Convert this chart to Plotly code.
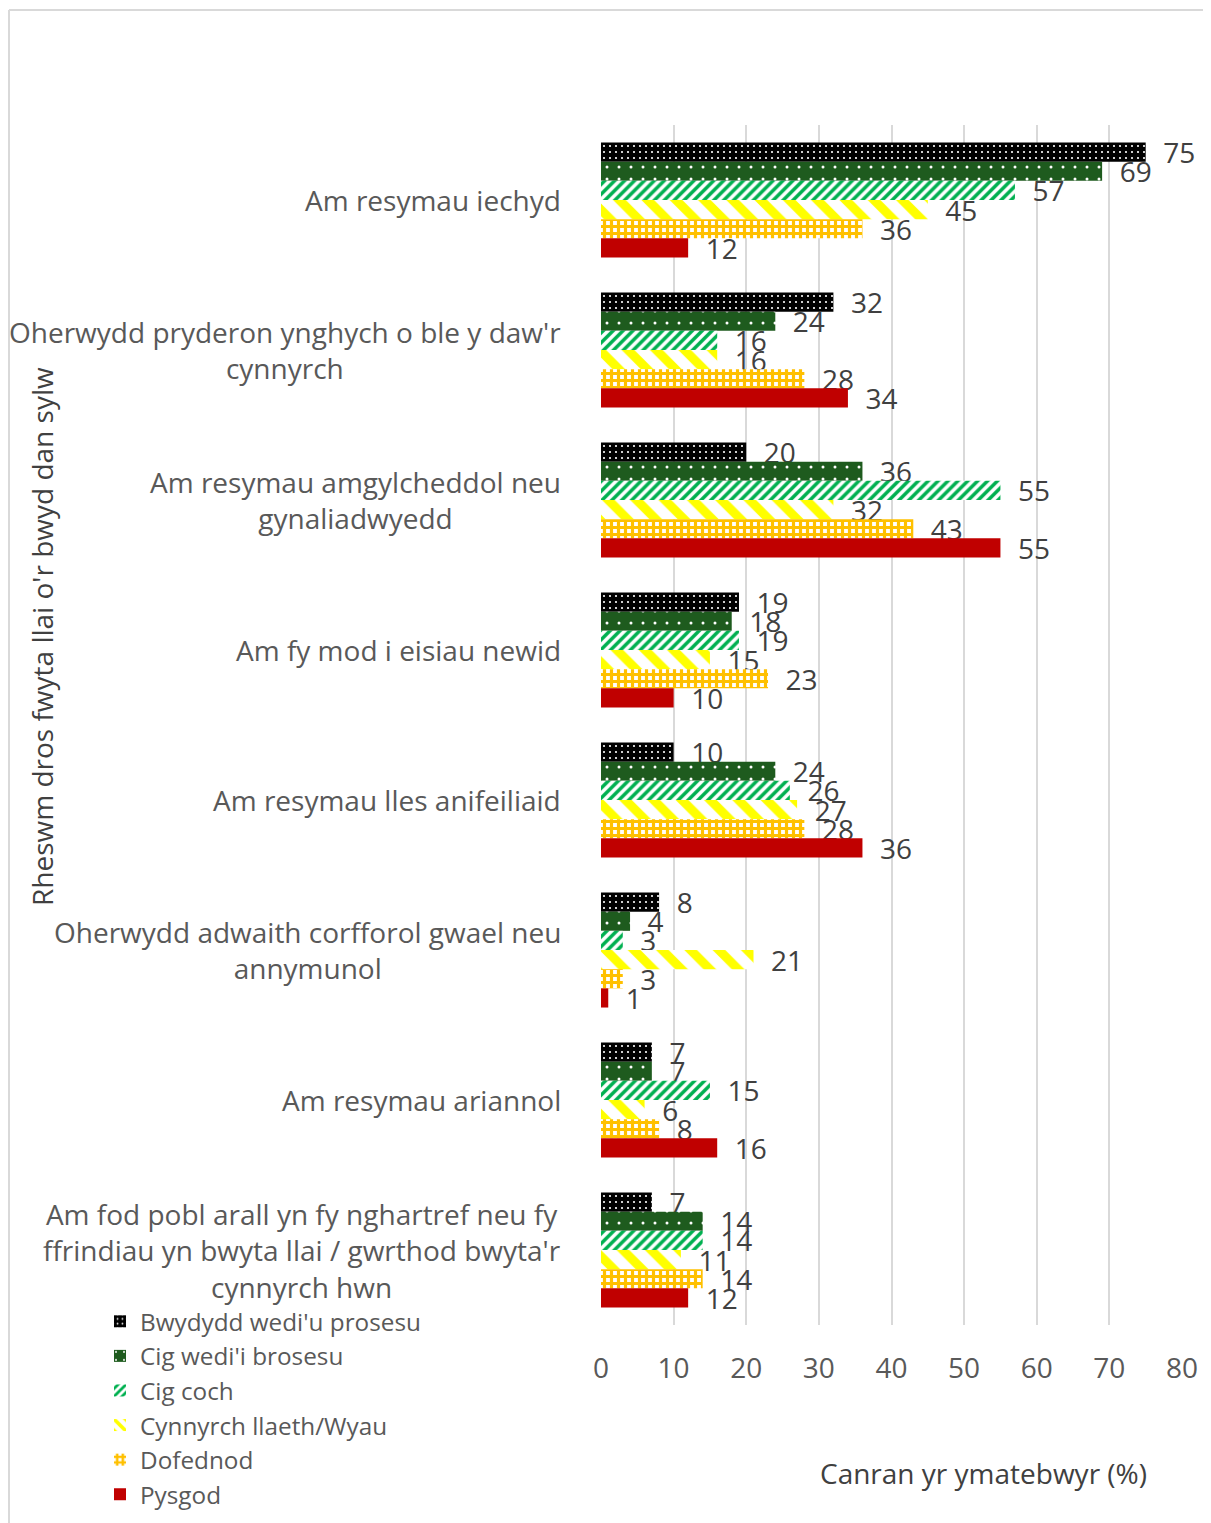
import plotly.graph_objects as go

categories = [
    "Am resymau iechyd",
    "Oherwydd pryderon ynghych o ble y daw'r<br>cynnyrch",
    "Am resymau amgylcheddol neu<br>gynaliadwyedd",
    "Am fy mod i eisiau newid",
    "Am resymau lles anifeiliaid",
    "Oherwydd adwaith corfforol gwael neu<br>annymunol",
    "Am resymau ariannol",
    "Am fod pobl arall yn fy nghartref neu fy<br>ffrindiau yn bwyta llai / gwrthod bwyta'r<br>cynnyrch hwn",
]

series_names = [
    "Bwydydd wedi'u prosesu",
    "Cig wedi'i brosesu",
    "Cig coch",
    "Cynnyrch llaeth/Wyau",
    "Dofednod",
    "Pysgod",
]

bwydydd = [75, 32, 20, 19, 10, 8, 7, 7]
cig_prosesu = [69, 24, 36, 18, 24, 4, 7, 14]
cig_coch = [57, 16, 55, 19, 26, 3, 15, 14]
llaeth = [45, 16, 32, 15, 27, 21, 6, 11]
dofednod = [36, 28, 43, 23, 28, 3, 8, 14]
pysgod = [12, 34, 55, 10, 36, 1, 16, 12]

values = [bwydydd, cig_prosesu, cig_coch, llaeth, dofednod, pysgod]

x_ticks = [0, 10, 20, 30, 40, 50, 60, 70, 80]

styles = [
    dict(color="#000000", pattern=dict(shape=".", bgcolor="#000000", fgcolor="#FFFFFF", size=6, solidity=0.1, fillmode="replace")),
    dict(color="#1E5B1E", pattern=dict(shape=".", bgcolor="#1E5B1E", fgcolor="#FFFFFF", size=12, solidity=0.05, fillmode="replace")),
    dict(color="#00B050", pattern=dict(shape="/", bgcolor="#FFFFFF", fgcolor="#00B050", size=7, solidity=0.5, fillmode="replace")),
    dict(color="#FFFF00", pattern=dict(shape="\\", bgcolor="#FFFFFF", fgcolor="#FFFF00", size=20, solidity=0.45, fillmode="replace")),
    dict(color="#FFC000", pattern=dict(shape="+", bgcolor="#FFFFFF", fgcolor="#FFC000", size=7, solidity=0.7, fillmode="replace")),
    dict(color="#C00000"),
]

FONT = "Open Sans"
FS = 28

# page offset of the figure (body margin)
OFF = 8
PL, PR, PT, PB = 601, 1182, 125, 1325  # plot area in page pixels
W, H = 1211 - OFF, 1523 - OFF
MB = 0
PAPER_B = OFF + H - MB  # page y of paper bottom


def px(xp):
    return (xp - PL) / (PR - PL)


def py(yp):
    return (PAPER_B - yp) / (PAPER_B - PT)


fig = go.Figure()
for name, vals, st in zip(series_names, values, styles):
    fig.add_trace(go.Bar(
        y=categories, x=vals, name=name, orientation="h",
        marker=dict(line=dict(width=0), **st),
        text=vals, texttemplate="\u00a0\u00a0%{x}", textposition="outside",
        textfont=dict(size=FS, color="#404040", family=FONT),
        constraintext="none", cliponaxis=False,
    ))

for c in categories:
    fig.add_annotation(
        x=px(563), xref="paper", y=c, yref="y", text=c, showarrow=False,
        xanchor="right", yanchor="middle", align="center",
        font=dict(size=FS, color="#595959", family=FONT),
    )

# Axis titles
fig.add_annotation(
    x=px(42), xref="paper", y=py(637), yref="paper",
    text="Rheswm dros fwyta llai o'r bwyd dan sylw", textangle=-90,
    showarrow=False, xanchor="center", yanchor="middle",
    font=dict(size=FS, color="#404040", family=FONT),
)
fig.add_annotation(
    x=px(983), xref="paper", y=py(1473), yref="paper",
    text="Canran yr ymatebwyr (%)", showarrow=False,
    xanchor="center", yanchor="middle",
    font=dict(size=FS, color="#404040", family=FONT),
)

# Outer frame
fig.add_shape(type="line", xref="paper", yref="paper",
              x0=px(9), x1=px(1215), y0=py(10), y1=py(10),
              line=dict(color="#D9D9D9", width=2))
fig.add_shape(type="line", xref="paper", yref="paper",
              x0=px(9), x1=px(9), y0=py(10), y1=py(1530),
              line=dict(color="#D9D9D9", width=2))

fig.update_layout(
    width=W, height=H,
    margin=dict(l=PL - OFF, r=(W + OFF) - PR, t=PT - OFF, b=MB),
    paper_bgcolor="white", plot_bgcolor="white",
    barmode="group", bargap=0.233, bargroupgap=0,
    font=dict(family=FONT, size=FS, color="#595959"),
    legend=dict(
        x=px(100), y=py(1517), xanchor="left", yanchor="bottom",
        traceorder="normal", font=dict(size=24.3, color="#595959", family=FONT),
        bgcolor="rgba(0,0,0,0)", itemwidth=30, tracegroupgap=0,
    ),
    showlegend=True,
)
fig.update_xaxes(
    range=[0, 80], tickvals=x_ticks, showgrid=True, gridcolor="#D9D9D9", gridwidth=2,
    zeroline=False, showline=False, ticks="", ticklabelstandoff=24, automargin=False,
    tickfont=dict(size=FS, color="#595959", family=FONT),
)
fig.update_yaxes(
    domain=[py(PB), 1], automargin=False,
    autorange="reversed", showticklabels=False, showgrid=False, zeroline=False,
    showline=False, ticks="",
)

fig.write_html("out.html")
